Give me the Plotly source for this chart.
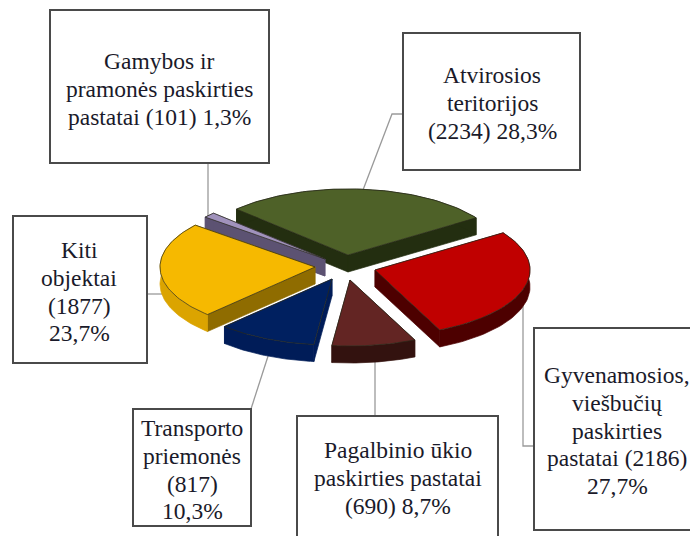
import math
import plotly.graph_objects as go

# --- data ---
labels = ["Atvirosios teritorijos", "Gyvenamosios, viešbučių paskirties pastatai",
          "Pagalbinio ūkio paskirties pastatai", "Transporto priemonės",
          "Kiti objektai", "Gamybos ir pramonės paskirties pastatai"]
values = [2234, 2186, 690, 817, 1877, 101]
box_lines = [
    ["Atvirosios", "teritorijos", "(2234) 28,3%"],
    ["Gyvenamosios,", "viešbučių", "paskirties", "pastatai (2186)", "27,7%"],
    ["Pagalbinio ūkio", "paskirties pastatai", "(690) 8,7%"],
    ["Transporto", "priemonės", "(817)", "10,3%"],
    ["Kiti", "objektai", "(1877)", "23,7%"],
    ["Gamybos ir", "pramonės paskirties", "pastatai (101) 1,3%"],
]

# --- styling / geometry (pixel space of the 690x536 picture) ---
top_colors = ["#4e6128", "#c00000", "#632523", "#002060", "#f6b900", "#a092bc"]
arc_colors = ["#232e10", "#4d0000", "#33120f", "#001c58", "#dba400", "#5c5272"]
side_colors = ["#232e10", "#4d0000", "#33120f", "#001c58", "#8f6c00", "#5c5272"]
apex = [(348, 255), (375, 270), (350, 280), (332, 279), (315, 267), (325, 259)]
RX, RY, DEPTH = 155, 66, 17
START_DEG = -46
draw_order = [0, 5, 4, 1, 3, 2]

boxes = [(403, 33, 580, 170), (534, 328, 695, 530), (297, 416, 498, 545),
         (133, 409, 251, 526), (13, 216, 147, 363), (50, 10, 269, 163)]
leaders = [[(403, 114), (392, 114), (363, 190)],
           [(523, 300), (523, 446), (534, 446)],
           [(375, 355), (375, 416)],
           [(251, 409), (270, 350)],
           [(147, 294), (165, 294)],
           [(208, 163), (208, 218)]]
text_x = [492, 617, 398, 192, 79, 159]
first_line_y = [75, 375, 450, 428, 250, 61]
LINE_H = 27.8
FONT_SIZE = 23.5

total = sum(values)
fig = go.Figure()


def poly(xs, ys, color, outline=None):
    fig.add_trace(go.Scatter(x=xs + xs[:1], y=ys + ys[:1], mode="lines", fill="toself",
                             fillcolor=color, line=dict(color=outline or color, width=0.7),
                             hoverinfo="skip", showlegend=False))


# slice spans
spans = []
a = START_DEG
for v in values:
    b = a + 360 * v / total
    spans.append((a, b))
    a = b

for i in draw_order:
    a0, a1 = spans[i]
    ax, ay = apex[i]
    n = 60
    angs = [math.radians(a0 + (a1 - a0) * k / n) for k in range(n + 1)]
    xs = [ax + RX * math.sin(t) for t in angs]
    ys = [ay - RY * math.cos(t) for t in angs]
    # radial walls
    for ex, ey in ((xs[0], ys[0]), (xs[-1], ys[-1])):
        poly([ax, ex, ex, ax], [ay, ey, ey + DEPTH, ay + DEPTH], side_colors[i])
    # outer wall
    poly(xs + [x for x in reversed(xs)], ys + [y + DEPTH for y in reversed(ys)], arc_colors[i])
    # top face
    poly([ax] + xs, [ay] + ys, top_colors[i], outline="#2a2a1a")

shapes = []
for seg in leaders:
    path = "M " + " L ".join(f"{x},{y}" for x, y in seg)
    shapes.append(dict(type="path", path=path, xref="x", yref="y", layer="below",
                       line=dict(color="#9a9a9a", width=1.3)))
for x0, y0, x1, y1 in boxes:
    shapes.append(dict(type="rect", x0=x0, y0=y0, x1=x1, y1=y1, xref="x", yref="y",
                       line=dict(color="#4a4a4a", width=2), fillcolor="white"))

annotations = []
for x, y0, lines in zip(text_x, first_line_y, box_lines):
    for k, line in enumerate(lines):
        annotations.append(dict(x=x, y=y0 + k * LINE_H, xref="x", yref="y", text=line,
                                showarrow=False, align="center", yanchor="middle",
                                font=dict(family="Liberation Serif", size=FONT_SIZE, color="#1a1a2a")))

fig.update_layout(width=690, height=536, margin=dict(l=0, r=0, t=0, b=0),
                  paper_bgcolor="white", plot_bgcolor="white", showlegend=False,
                  xaxis=dict(range=[0, 690], visible=False, fixedrange=True),
                  yaxis=dict(range=[536, 0], visible=False, fixedrange=True),
                  shapes=shapes, annotations=annotations)
fig.write_html("out.html", config=dict(displayModeBar=False),
               post_script="document.body.style.margin='0';document.body.style.overflow='hidden';")
